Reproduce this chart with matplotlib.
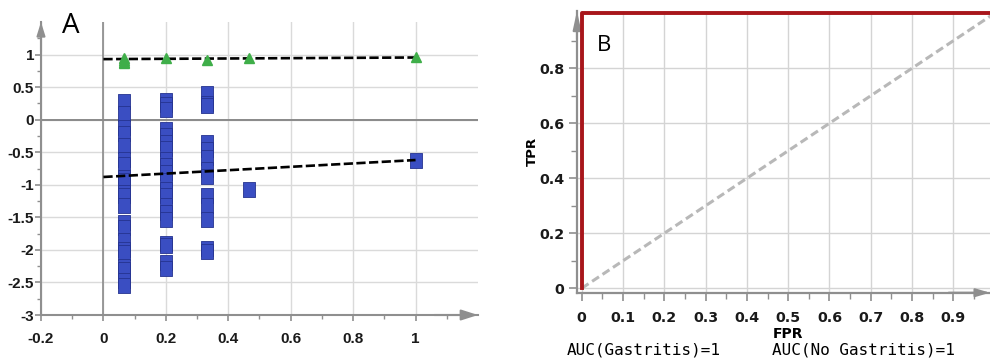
import numpy as np
import matplotlib
matplotlib.use("Agg")
from matplotlib import pyplot as plt
from matplotlib.ticker import FixedLocator

# ---- panel A: permutation test (R2 triangles, Q2 squares) ----
perm_x = [0.067, 0.2, 0.333, 0.467, 1.0]
r2_vals = [[0.95, 0.92, 0.89, 0.87], [0.95], [0.92], [0.95], [0.96]]
q2_vals = [
	[0.28, 0.11, -0.11, -0.2, -0.39, -0.6, -0.68, -0.88, -0.92, -1.11, -1.15, -1.31,
	 -1.57, -1.65, -1.85, -1.98, -2.03, -2.25, -2.29, -2.46, -2.54],
	[0.3, 0.24, 0.16, -0.15, -0.23, -0.34, -0.44, -0.6, -0.69, -0.8, -0.93, -1.06,
	 -1.16, -1.31, -1.42, -1.53, -1.9, -1.92, -2.19, -2.28],
	[0.41, 0.25, 0.23, -0.35, -0.45, -0.58, -0.75, -0.86, -1.16, -1.31, -1.53, -1.97, -2.01],
	[-1.07],
	[-0.62],
]
fit_x = [0, 1]
r2_fit = [0.93, 0.955]
q2_fit = [-0.88, -0.62]

a_xticks = [-0.2, 0, 0.2, 0.4, 0.6, 0.8, 1]
a_xlabels = ["-0.2", "0", "0.2", "0.4", "0.6", "0.8", "1"]
a_yticks = [-3, -2.5, -2, -1.5, -1, -0.5, 0, 0.5, 1]
a_ylabels = ["-3", "-2.5", "-2", "-1.5", "-1", "-0.5", "0", "0.5", "1"]

# ---- panel B: ROC curve ----
fpr = [0, 0, 1]
tpr = [0, 1, 1]
chance = [0, 1]
b_xticks = [0, 0.1, 0.2, 0.3, 0.4, 0.5, 0.6, 0.7, 0.8, 0.9]
b_xlabels = ["0", "0.1", "0.2", "0.3", "0.4", "0.5", "0.6", "0.7", "0.8", "0.9"]
b_yticks = [0, 0.2, 0.4, 0.6, 0.8]
b_ylabels = ["0", "0.2", "0.4", "0.6", "0.8"]
auc_texts = ["AUC(Gastritis)=1", "AUC(No Gastritis)=1"]

GRAY = "#8f8f8f"
GRID = "#dadada"
narrow = ["Liberation Sans Narrow", "Liberation Sans", "DejaVu Sans"]

fig = plt.figure(figsize=(9.9, 3.58), dpi=100)


def axis_arrows(ax, up, right):
	ax.annotate("", xy=(0, 1), xytext=(0, 0.9), xycoords="axes fraction",
				arrowprops=dict(arrowstyle="-|>,head_length=%s,head_width=%s" % up,
								color=GRAY, lw=1.5, shrinkA=0, shrinkB=0),
				annotation_clip=False, zorder=6)
	ax.annotate("", xy=(1, 0), xytext=(0.9, 0), xycoords="axes fraction",
				arrowprops=dict(arrowstyle="-|>,head_length=%s,head_width=%s" % right,
								color=GRAY, lw=1.5, shrinkA=0, shrinkB=0),
				annotation_clip=False, zorder=6)


# Panel A
axA = fig.add_axes([0.0414, 0.1201, 0.4414, 0.8184])
axA.set_xlim(-0.2, 1.2)
axA.set_ylim(-3, 1.5)
for s in ["top", "right"]:
	axA.spines[s].set_visible(False)
for s in ["left", "bottom"]:
	axA.spines[s].set_color(GRAY)
	axA.spines[s].set_linewidth(1.5)

axA.set_xticks(a_xticks)
axA.set_xticklabels(a_xlabels, fontfamily=narrow, fontweight="bold", fontsize=11, color="#1a1a1a")
axA.set_yticks(a_yticks)
axA.set_yticklabels(a_ylabels, fontfamily=narrow, fontweight="bold", fontsize=11, color="#1a1a1a")
axA.xaxis.set_minor_locator(FixedLocator(np.arange(-0.1, 1.15, 0.2)))
axA.yaxis.set_minor_locator(FixedLocator(np.arange(-2.75, 1.3, 0.5)))
axA.tick_params(axis="x", which="major", length=4, width=1.2, color=GRAY, pad=8)
axA.tick_params(axis="y", which="major", length=4, width=1.2, color=GRAY, pad=1)
axA.tick_params(which="minor", length=3, width=1, color=GRAY)
axA.grid(True, color=GRID, lw=1)
axA.set_axisbelow(True)
axA.axhline(0, color="#8a8a8a", lw=1.4, zorder=1)
axA.axvline(0, color="#8a8a8a", lw=1.2, zorder=1)

rect = [(-0.8, -1), (0.8, -1), (0.8, 1), (-0.8, 1), (-0.8, -1)]
for xv, ys in zip(perm_x, q2_vals):
	axA.plot([xv] * len(ys), ys, linestyle="none", marker=rect, markersize=10.8,
			 markerfacecolor="#3a4ec2", markeredgecolor="#25338f", markeredgewidth=0.6, zorder=2)
axA.plot(fit_x, q2_fit, color="black", lw=1.9, dashes=(3.5, 1.3), zorder=3)
axA.plot(fit_x, r2_fit, color="black", lw=1.9, dashes=(3.5, 1.3), zorder=3)
for xv, ys in zip(perm_x, r2_vals):
	axA.plot([xv] * len(ys), ys, linestyle="none", marker="^", markersize=7.5,
			 markerfacecolor="#3fae49", markeredgecolor="#3fae49", zorder=4)

axis_arrows(axA, (0.8, 0.25), (1.0, 0.32))
axA.text(0.048, 0.985, "A", transform=axA.transAxes, fontsize=20, ha="left", va="center",
		 fontfamily="Open Sans")

# Panel B
axB = fig.add_axes([0.5828, 0.1824, 0.4172, 0.7869])
axB.set_xlim(-0.0114, 0.9886)
axB.set_ylim(-0.016, 1.008)
for s in ["top", "right"]:
	axB.spines[s].set_visible(False)
for s in ["left", "bottom"]:
	axB.spines[s].set_color(GRAY)
	axB.spines[s].set_linewidth(1.6)

axB.set_xticks(b_xticks)
axB.set_xticklabels(b_xlabels, fontfamily="DejaVu Sans", fontweight="bold", fontsize=10.3, color="#1a1a1a")
axB.set_yticks(b_yticks)
axB.set_yticklabels(b_ylabels, fontfamily="DejaVu Sans", fontweight="bold", fontsize=10.3, color="#1a1a1a")
axB.xaxis.set_minor_locator(FixedLocator(np.arange(0.05, 0.98, 0.1)))
axB.yaxis.set_minor_locator(FixedLocator([0.1, 0.3, 0.5, 0.7, 0.9]))
axB.tick_params(axis="x", which="major", length=6, width=1.2, color=GRAY, pad=7)
axB.tick_params(axis="y", which="major", length=6, width=1.2, color=GRAY, pad=3)
axB.tick_params(which="minor", length=4, width=1, color=GRAY)
axB.grid(True, color="#d4d4d4", lw=1)
axB.set_axisbelow(True)

axB.plot(chance, chance, color="#b8b8b8", lw=2.2, dashes=(2.7, 1.4), zorder=2)
axB.plot(fpr, tpr, color="#a8161b", lw=2.8, zorder=7, clip_on=False)
axis_arrows(axB, (1.1, 0.24), (0.85, 0.25))

axB.text(-0.108, 0.503, "TPR", transform=axB.transAxes, rotation=90, fontsize=9.5,
		 fontweight="bold", ha="center", va="center")
axB.text(0.5, -0.145, "FPR", transform=axB.get_xaxis_transform(), fontsize=10,
		 fontweight="bold", ha="center", va="center")
axB.text(0.048, 0.879, "B", transform=axB.transAxes, fontsize=16, ha="left", va="center",
		 fontfamily="Open Sans")

fig.text(0.5724, 0.0223, auc_texts[0], fontfamily="DejaVu Sans Mono", fontsize=11.5, va="center")
fig.text(0.7795, 0.0223, auc_texts[1], fontfamily="DejaVu Sans Mono", fontsize=11.5, va="center")

plt.savefig("out.png", dpi=100)
